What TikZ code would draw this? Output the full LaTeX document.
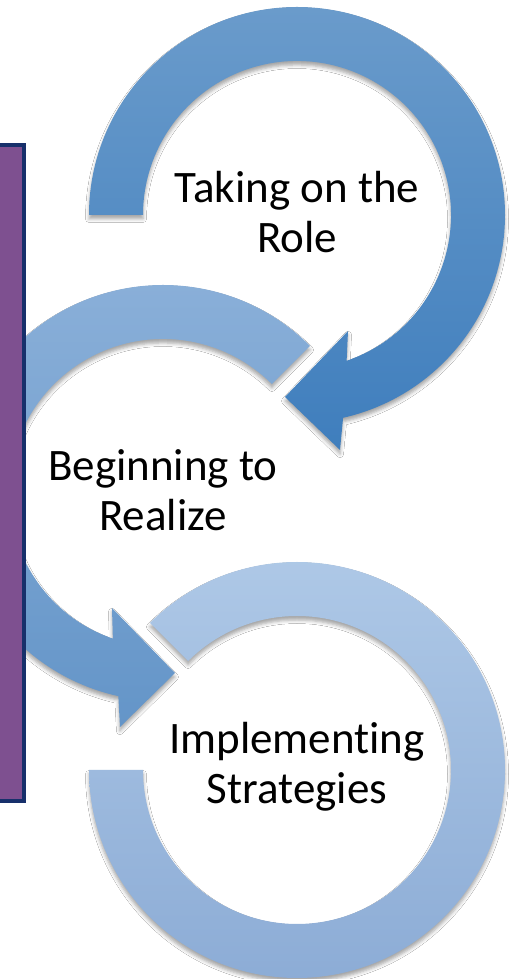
\documentclass[tikz,border=0pt]{standalone}
\usepackage{fontspec}
\setmainfont[Ligatures=NoCommon]{Carlito}
\usetikzlibrary{shadows.blur}

\definecolor{ringAtop}{HTML}{6A9BCB}
\definecolor{ringAbot}{HTML}{3F7EBD}
\definecolor{ringBtop}{HTML}{8BB0D9}
\definecolor{ringBbot}{HTML}{6495C8}
\definecolor{ringCtop}{HTML}{AFC9E7}
\definecolor{ringCbot}{HTML}{8BABD5}
\definecolor{panelfill}{HTML}{7E5090}
\definecolor{panelline}{HTML}{17306B}

\tikzset{
  ring/.style={blur shadow={shadow xshift=0pt, shadow yshift=-4pt,
      shadow blur radius=3.5pt, shadow opacity=35}},
  label/.style={align=center, font=\fontsize{45}{50}\selectfont, text=black, inner sep=0pt}
}

\begin{document}
\begin{tikzpicture}[x=1pt, y=1pt]
\useasboundingbox (0,0) rectangle (510,979);
\fill[white] (0,0) rectangle (510,979);

% centres of the three rings
\coordinate (c1) at (297,764);
\coordinate (c2) at (163,486);
\coordinate (c3) at (297,209);

% last ring: plain open ring, no head
\begin{scope}[shift={(c3)}]
  \path[ring, top color=ringCtop, bottom color=ringCbot]
    (135:208) arc[start angle=135, end angle=-180, radius=208]
    -- (180:154) arc[start angle=-180, end angle=135, radius=154] -- cycle;
\end{scope}

% middle ring with head pointing down-right
\begin{scope}[shift={(c2)}]
  \path[ring, top color=ringBtop, bottom color=ringBbot]
    (45:208) arc[start angle=45, end angle=257.6, radius=208]
    -- (-43,-234) -- (12,-180) -- (-51,-115)
    -- (251:154) arc[start angle=251, end angle=45, radius=154] -- cycle;
\end{scope}

% first ring with head pointing down-left
\begin{scope}[shift={(c1)}]
  \path[ring, top color=ringAtop, bottom color=ringAbot]
    (180:208) arc[start angle=180, end angle=-77.2, radius=208]
    -- (43,-235) -- (-12,-182) -- (51,-116)
    -- (-71.2:154) arc[start angle=-71.2, end angle=180, radius=154] -- cycle;
\end{scope}

% side panel
\draw[panelline, line width=4pt, fill=panelfill] (-10,178) rectangle (24,834);

% stage labels
\node[label] (t1) at (297,767) {Taking on the\\Role};
\node[label] (t2) at (163,489) {Beginning to\\Realize};
\node[label] (t3) at (297,212) {Implementing\\Strategies};
\end{tikzpicture}
\end{document}
